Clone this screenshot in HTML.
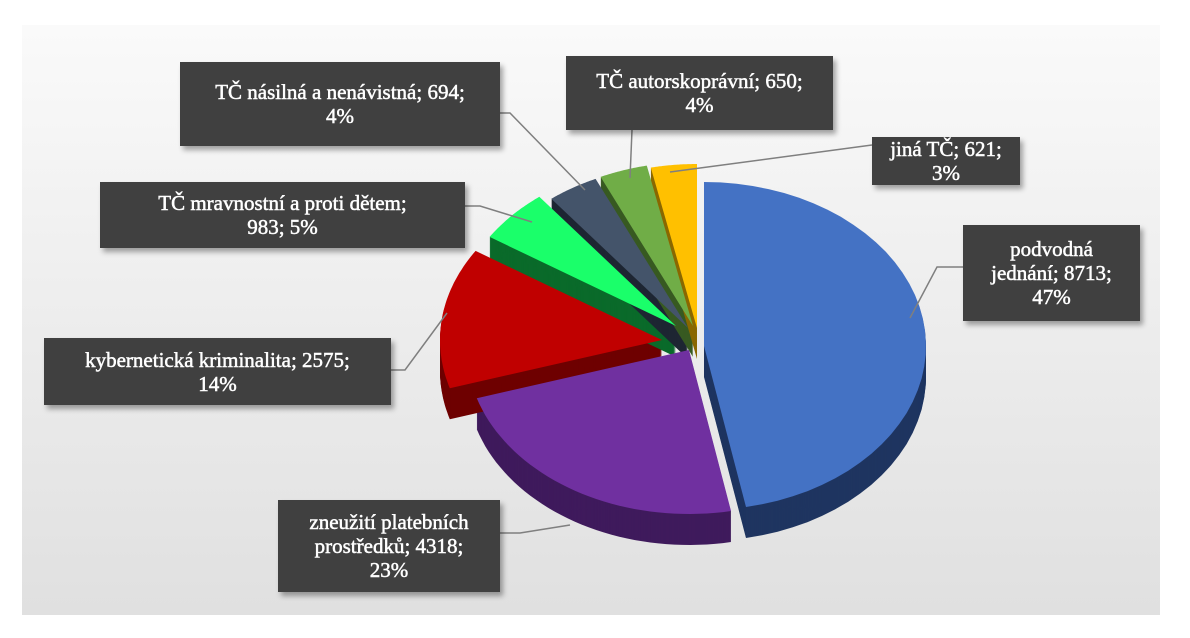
<!DOCTYPE html>
<html><head><meta charset="utf-8"><style>
html,body{margin:0;padding:0;background:#fff;}
#c{position:relative;width:1190px;height:638px;overflow:hidden;background:#fff;}
#panel{position:absolute;left:22px;top:25px;width:1138px;height:590px;background:linear-gradient(#fafafa,#f2f2f2 30%,#e0e0e0);}
.lb{position:absolute;background:#404040;color:#fff;font-family:"Liberation Serif",serif;font-size:21px;line-height:24px;text-align:center;display:flex;align-items:center;justify-content:center;box-shadow:3px 4px 5px rgba(0,0,0,0.35);-webkit-text-stroke:0.5px #fff;}
svg{position:absolute;left:0;top:0;}
</style></head><body><div id="c">
<div id="panel"></div>
<svg id="s" width="1190" height="638"></svg>
<div class="lb" style="left:180px;top:62px;width:320px;height:84px;">TČ násilná a nenávistná; 694;<br>4%</div>
<div class="lb" style="left:100px;top:182px;width:365px;height:66px;">TČ mravnostní a proti dětem;<br>983; 5%</div>
<div class="lb" style="left:566px;top:56px;width:267px;height:74px;">TČ autorskoprávní; 650;<br>4%</div>
<div class="lb" style="left:872px;top:137px;width:148px;height:48px;">jiná TČ; 621;<br>3%</div>
<div class="lb" style="left:963px;top:225px;width:177px;height:96px;">podvodná<br>jednání; 8713;<br>47%</div>
<div class="lb" style="left:44px;top:338px;width:347px;height:67px;">kybernetická kriminalita; 2575;<br>14%</div>
<div class="lb" style="left:278px;top:500px;width:222px;height:92px;">zneužití platebních<br>prostředků; 4318;<br>23%</div>
<script>
var s=document.getElementById('s'),NS='http://www.w3.org/2000/svg';
function el(t,a){var e=document.createElementNS(NS,t);for(var k in a)e.setAttribute(k,a[k]);s.appendChild(e);return e;}
var rx=222,ry=164,D=31;
var sl=[
 [0,169.1,704,346,'#4472c4','#1f3560'],
 [169.1,252.9,689,350,'#7030a0','#3f1a5c'],
 [252.9,302.9,662,340,'#c00000','#6e0000'],
 [302.9,322,676,326,'#1aff6a','#0a6a2a'],
 [322,335.4,688,328,'#44546a','#1e2633'],
 [335.4,348,693,326,'#70ad47','#385a22'],
 [348,360,697,328,'#ffc000','#8a6800']];
function pts(a0,a1,cx,cy,dy){var p=[[cx,cy+dy]];for(var a=a0;a<=a1+0.001;a+=(a1-a0)/40){var r=a*Math.PI/180;p.push([cx+rx*Math.sin(r),cy-ry*Math.cos(r)+dy]);}return p;}
function ps(p){return p.map(function(q){return q[0].toFixed(1)+','+q[1].toFixed(1)}).join(' ');}
sl.forEach(function(q){for(var d=D;d>0;d-=1)el('polygon',{points:ps(pts(q[0],q[1],q[2],q[3],d)),fill:q[5]});});
sl.forEach(function(q){el('polygon',{points:ps(pts(q[0],q[1],q[2],q[3],0)),fill:q[4]});});
var L=[[[500,113],[510,113],[585,190]],[[465,206],[480,206],[532,222]],[[632,130],[630,178]],[[872,145],[670,172]],[[963,267],[937,267],[910,318]],[[391,370],[405,370],[447,313]],[[500,533],[520,533],[570,525]]];
L.forEach(function(l){el('polyline',{points:ps(l),fill:'none',stroke:'#7f7f7f','stroke-width':1.5});});
</script>
</div></body></html>
